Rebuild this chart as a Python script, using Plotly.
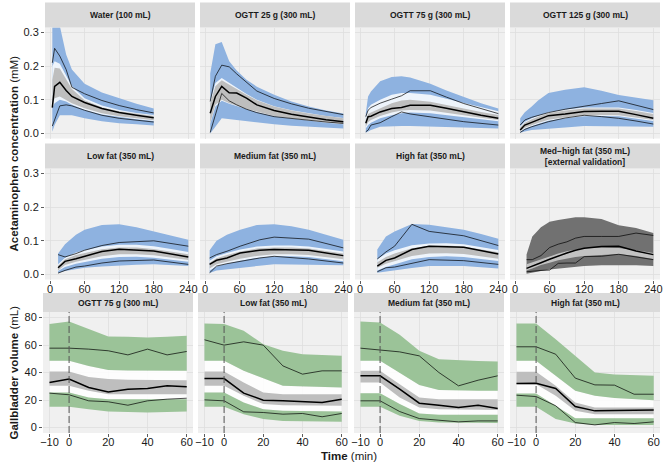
import plotly.graph_objects as go

W, H = 667, 467
FONT = "Liberation Sans, Arial, sans-serif"

# ---------------- tick labels / titles ----------------
pk_titles = ["Water (100 mL)", "OGTT 25 g (300 mL)", "OGTT 75 g (300 mL)", "OGTT 125 g (300 mL)",
             "Low fat (350 mL)", "Medium fat (350 mL)", "High fat (350 mL)",
             "Med\u2212high fat (350 mL)<br>[external validation]"]
gb_titles = ["OGTT 75 g (300 mL)", "Low fat (350 mL)", "Medium fat (350 mL)", "High fat (350 mL)"]
pk_x_ticks = [0, 60, 120, 180, 240]
pk_y_ticks = [0.0, 0.1, 0.2, 0.3]
gb_x_ticks = [-10, 0, 20, 40, 60]
gb_y_ticks = [0, 20, 40, 60, 80]
gb_dose_time = 0

# ---------------- acetaminophen (PK) data ----------------
water_t = [4, 8, 17, 28, 38, 60, 90, 120, 150, 180]
water_p05 = [0.022, 0.04, 0.082, 0.085, 0.082, 0.069, 0.054, 0.045, 0.039, 0.034]
water_p50 = [0.077, 0.14, 0.152, 0.128, 0.11, 0.092, 0.074, 0.062, 0.054, 0.047]
water_p95 = [0.21, 0.253, 0.23, 0.19, 0.137, 0.118, 0.098, 0.083, 0.071, 0.061]
water_pi_hi = [0.34, 0.34, 0.32, 0.235, 0.19, 0.148, 0.122, 0.104, 0.088, 0.074]
water_pi_lo = [0.005, 0.025, 0.054, 0.055, 0.054, 0.045, 0.036, 0.03, 0.027, 0.024]
water_ci_hi = [0.2, 0.215, 0.207, 0.17, 0.14, 0.105, 0.083, 0.07, 0.061, 0.055]
water_ci_lo = [0.075, 0.09, 0.1, 0.095, 0.085, 0.07, 0.056, 0.048, 0.042, 0.037]
water_md_hi = [0.16, 0.195, 0.193, 0.16, 0.132, 0.099, 0.078, 0.066, 0.058, 0.052]
water_md_lo = [0.085, 0.105, 0.11, 0.1, 0.09, 0.075, 0.06, 0.051, 0.044, 0.039]

o25_t = [9, 18, 29, 42, 55, 72, 90, 120, 150, 180, 210, 240]
o25_p05 = [0.003, 0.055, 0.119, 0.097, 0.085, 0.072, 0.062, 0.05, 0.044, 0.039, 0.034, 0.03]
o25_p50 = [0.06, 0.11, 0.14, 0.121, 0.12, 0.105, 0.085, 0.068, 0.057, 0.048, 0.041, 0.035]
o25_p95 = [0.095, 0.17, 0.203, 0.198, 0.177, 0.152, 0.126, 0.104, 0.088, 0.075, 0.065, 0.056]
o25_pi_hi = [0.178, 0.265, 0.272, 0.215, 0.187, 0.16, 0.139, 0.115, 0.095, 0.08, 0.068, 0.059]
o25_pi_lo = [0.0, 0.02, 0.045, 0.043, 0.04, 0.037, 0.033, 0.027, 0.023, 0.02, 0.017, 0.015]
o25_ci_hi = [0.095, 0.15, 0.165, 0.15, 0.135, 0.117, 0.1, 0.081, 0.069, 0.06, 0.052, 0.046]
o25_ci_lo = [0.028, 0.08, 0.097, 0.088, 0.081, 0.072, 0.063, 0.051, 0.044, 0.039, 0.032, 0.027]
o25_md_hi = [0.09, 0.14, 0.158, 0.146, 0.132, 0.115, 0.099, 0.08, 0.068, 0.059, 0.051, 0.045]
o25_md_lo = [0.03, 0.085, 0.1, 0.09, 0.083, 0.073, 0.064, 0.052, 0.045, 0.04, 0.033, 0.028]

o75_t = [10, 14, 19, 35, 55, 72, 87, 122, 150, 180, 210, 240]
o75_p05 = [0.005, 0.01, 0.025, 0.032, 0.05, 0.064, 0.058, 0.049, 0.042, 0.035, 0.03, 0.025]
o75_p50 = [0.03, 0.05, 0.051, 0.064, 0.074, 0.077, 0.084, 0.084, 0.075, 0.064, 0.054, 0.045]
o75_p95 = [0.05, 0.069, 0.077, 0.09, 0.102, 0.112, 0.127, 0.127, 0.108, 0.089, 0.074, 0.059]
o75_pi_hi = [0.06, 0.11, 0.125, 0.155, 0.168, 0.17, 0.166, 0.148, 0.128, 0.108, 0.09, 0.074]
o75_pi_lo = [0.002, 0.005, 0.01, 0.02, 0.022, 0.022, 0.022, 0.021, 0.02, 0.018, 0.016, 0.015]
o75_ci_hi = [0.045, 0.075, 0.085, 0.1, 0.115, 0.12, 0.12, 0.115, 0.103, 0.09, 0.078, 0.066]
o75_ci_lo = [0.015, 0.025, 0.032, 0.045, 0.054, 0.06, 0.062, 0.06, 0.055, 0.048, 0.042, 0.036]
o75_md_hi = [0.04, 0.058, 0.062, 0.075, 0.09, 0.098, 0.1, 0.094, 0.084, 0.074, 0.064, 0.055]
o75_md_lo = [0.02, 0.033, 0.04, 0.052, 0.062, 0.068, 0.07, 0.068, 0.062, 0.054, 0.047, 0.04]

o125_t = [9, 17, 29, 40, 58, 87, 120, 150, 180, 210, 240]
o125_p05 = [0.003, 0.012, 0.02, 0.026, 0.035, 0.046, 0.054, 0.05, 0.045, 0.037, 0.028]
o125_p50 = [0.01, 0.025, 0.033, 0.04, 0.053, 0.058, 0.065, 0.066, 0.066, 0.056, 0.045]
o125_p95 = [0.025, 0.04, 0.048, 0.053, 0.062, 0.072, 0.082, 0.089, 0.097, 0.085, 0.071]
o125_pi_hi = [0.045, 0.063, 0.08, 0.098, 0.12, 0.13, 0.137, 0.127, 0.114, 0.106, 0.099]
o125_pi_lo = [0.002, 0.006, 0.01, 0.012, 0.015, 0.018, 0.022, 0.022, 0.021, 0.02, 0.02]
o125_ci_hi = [0.021, 0.035, 0.045, 0.053, 0.063, 0.071, 0.077, 0.078, 0.077, 0.07, 0.061]
o125_ci_lo = [0.004, 0.014, 0.022, 0.028, 0.038, 0.045, 0.051, 0.052, 0.051, 0.044, 0.037]
o125_md_hi = [0.018, 0.032, 0.042, 0.05, 0.06, 0.068, 0.074, 0.075, 0.074, 0.067, 0.058]
o125_md_lo = [0.006, 0.017, 0.025, 0.031, 0.041, 0.048, 0.054, 0.055, 0.054, 0.047, 0.04]

lf_t = [14, 26, 45, 60, 90, 120, 180, 240]
lf_p05 = [0.004, 0.012, 0.022, 0.025, 0.034, 0.04, 0.043, 0.03]
lf_p50 = [0.02, 0.039, 0.047, 0.054, 0.068, 0.075, 0.07, 0.052]
lf_p95 = [0.059, 0.052, 0.062, 0.072, 0.086, 0.095, 0.1, 0.084]
lf_sim_t = [14, 26, 45, 60, 90, 120, 150, 180, 210, 240]
lf_pi_hi = [0.062, 0.09, 0.118, 0.133, 0.147, 0.149, 0.14, 0.128, 0.115, 0.103]
lf_pi_lo = [0.004, 0.01, 0.016, 0.02, 0.024, 0.027, 0.029, 0.03, 0.028, 0.025]
lf_ci_hi = [0.03, 0.05, 0.065, 0.072, 0.083, 0.088, 0.088, 0.084, 0.076, 0.067]
lf_ci_lo = [0.01, 0.022, 0.032, 0.038, 0.047, 0.052, 0.053, 0.05, 0.044, 0.038]
lf_md_hi = [0.026, 0.045, 0.058, 0.064, 0.075, 0.08, 0.08, 0.076, 0.068, 0.06]
lf_md_lo = [0.012, 0.028, 0.038, 0.044, 0.054, 0.06, 0.06, 0.057, 0.05, 0.043]

mf_t = [8, 20, 38, 61, 95, 120, 180, 240]
mf_p05 = [0.005, 0.025, 0.032, 0.039, 0.049, 0.054, 0.046, 0.034]
mf_p50 = [0.03, 0.042, 0.049, 0.064, 0.072, 0.074, 0.072, 0.056]
mf_p95 = [0.049, 0.059, 0.069, 0.084, 0.103, 0.111, 0.105, 0.079]
mf_sim_t = [8, 20, 38, 61, 90, 120, 150, 180, 210, 240]
mf_pi_hi = [0.072, 0.1, 0.118, 0.133, 0.147, 0.149, 0.143, 0.133, 0.118, 0.103]
mf_pi_lo = [0.004, 0.012, 0.016, 0.02, 0.025, 0.03, 0.03, 0.029, 0.028, 0.027]
mf_ci_hi = [0.041, 0.054, 0.064, 0.074, 0.083, 0.086, 0.086, 0.083, 0.076, 0.068]
mf_ci_lo = [0.012, 0.024, 0.032, 0.041, 0.049, 0.054, 0.054, 0.052, 0.046, 0.039]
mf_md_hi = [0.035, 0.048, 0.058, 0.068, 0.077, 0.08, 0.08, 0.077, 0.07, 0.062]
mf_md_lo = [0.018, 0.03, 0.038, 0.047, 0.055, 0.06, 0.06, 0.058, 0.052, 0.045]

hf_t = [30, 45, 60, 90, 120, 180, 240]
hf_p05 = [0.008, 0.02, 0.022, 0.034, 0.044, 0.041, 0.03]
hf_p50 = [0.025, 0.042, 0.049, 0.074, 0.084, 0.081, 0.061]
hf_p95 = [0.046, 0.067, 0.084, 0.149, 0.128, 0.115, 0.086]
hf_sim_t = [30, 45, 60, 90, 120, 150, 180, 210, 240]
hf_pi_hi = [0.074, 0.113, 0.128, 0.15, 0.148, 0.141, 0.133, 0.12, 0.106]
hf_pi_lo = [0.005, 0.008, 0.012, 0.019, 0.025, 0.025, 0.025, 0.022, 0.018]
hf_ci_hi = [0.045, 0.062, 0.072, 0.087, 0.092, 0.093, 0.09, 0.082, 0.073]
hf_ci_lo = [0.012, 0.022, 0.03, 0.045, 0.052, 0.054, 0.052, 0.047, 0.04]
hf_md_hi = [0.036, 0.052, 0.062, 0.078, 0.085, 0.086, 0.083, 0.075, 0.066]
hf_md_lo = [0.02, 0.032, 0.04, 0.055, 0.062, 0.063, 0.061, 0.055, 0.047]

ext_t = [20, 30, 45, 60, 75, 90, 105, 120, 150, 180, 210, 240]
ext_p05 = [0.008, 0.01, 0.012, 0.013, 0.033, 0.034, 0.034, 0.053, 0.054, 0.06, 0.052, 0.044]
ext_p50 = [0.018, 0.024, 0.035, 0.045, 0.055, 0.064, 0.072, 0.078, 0.083, 0.084, 0.07, 0.059]
ext_p95 = [0.044, 0.044, 0.056, 0.08, 0.09, 0.097, 0.108, 0.113, 0.113, 0.113, 0.123, 0.116]
ext_pi_hi = [0.059, 0.113, 0.14, 0.157, 0.162, 0.166, 0.17, 0.17, 0.165, 0.146, 0.138, 0.123]
ext_pi_lo = [0.002, 0.006, 0.01, 0.015, 0.018, 0.021, 0.023, 0.025, 0.027, 0.028, 0.027, 0.025]
ext_md_hi = [0.03, 0.036, 0.046, 0.054, 0.062, 0.069, 0.075, 0.079, 0.08, 0.079, 0.072, 0.064]
ext_md_lo = [0.012, 0.018, 0.028, 0.035, 0.042, 0.048, 0.052, 0.055, 0.059, 0.061, 0.055, 0.046]

# ---------------- gallbladder volume data ----------------
gb_t = [-10, 0, 10, 20, 30, 40, 50, 60]

g75_p05 = [25, 23.8, 19.4, 18.7, 16.2, 19.4, 20.6, 21.3]
g75_p50 = [32.7, 35.2, 29.1, 25.9, 27.9, 28.4, 30.3, 29.6]
g75_p95 = [57.7, 57.7, 57, 55.8, 52.8, 57, 52.8, 55.3]
g75_up_hi = [75.2, 77.1, 71.6, 66.2, 66, 65.5, 66, 66.7]
g75_up_lo = [48.5, 48.5, 44.8, 41.9, 41.5, 41.2, 41.2, 41.2]
g75_md_hi = [40.7, 40.7, 36.8, 35.2, 34.8, 34.6, 34.5, 34.4]
g75_md_lo = [30.3, 30.3, 26.7, 24.2, 24.2, 24.2, 24.2, 24.2]
g75_lo_hi = [25.5, 25.5, 21.8, 20.6, 20.6, 20.6, 20.6, 20.6]
g75_lo_lo = [15, 15, 13.3, 11.6, 11.2, 10.9, 11.2, 11.6]

glf_p05 = [20.1, 19.4, 11.4, 10.9, 9.7, 10.2, 7.8, 10.2]
glf_p50 = [35.6, 35.6, 25, 19.9, 19.4, 18.7, 18.2, 20.6]
glf_p95 = [63.8, 59.9, 62.3, 59.9, 44.8, 38.8, 41.2, 41.2]
glf_up_hi = [75.6, 75.2, 70.3, 60.6, 55.8, 53.3, 52.7, 52.1]
glf_up_lo = [48.5, 48.5, 41.2, 35.9, 30.3, 29.7, 29.4, 29.1]
glf_md_hi = [40.7, 40.7, 32.7, 25.5, 24.2, 24.2, 24.2, 24.2]
glf_md_lo = [30.3, 30.3, 23, 17, 16.2, 16, 15.9, 15.8]
glf_lo_hi = [25.5, 25.5, 18.2, 13.3, 12.1, 11.9, 11.7, 11.6]
glf_lo_lo = [15, 15, 9.7, 6.1, 4.8, 4.5, 4.3, 4.1]

gmf_p05 = [19.4, 19.4, 11.6, 6.5, 5.3, 4.1, 4.8, 4.8]
gmf_p50 = [37.6, 37.6, 27.9, 17.7, 16.2, 14.5, 16.2, 13.8]
gmf_p95 = [57.7, 56.2, 55, 52.1, 40, 30.3, 34.4, 37.6]
gmf_up_hi = [77.1, 76.4, 67.4, 55.8, 49.7, 48.8, 48.4, 48]
gmf_up_lo = [48.5, 48.5, 40, 31, 27.2, 27, 26.8, 26.7]
gmf_md_hi = [41.2, 41.2, 31.5, 21.8, 20.6, 20.6, 20.6, 20.6]
gmf_md_lo = [32.7, 32.7, 21.8, 14.5, 13.3, 13, 12.9, 12.8]
gmf_lo_hi = [25, 25, 17, 10.2, 9.2, 9.2, 9.2, 9.2]
gmf_lo_lo = [15, 15, 8.5, 4.8, 3.6, 3.4, 3.3, 3.2]

ghf_p05 = [23.5, 22.5, 15.8, 3.6, 1.9, 3.6, 2.9, 4.1]
ghf_p50 = [32, 32.2, 28.4, 15.3, 12.1, 12.6, 12.6, 12.8]
ghf_p95 = [58.7, 58.7, 53.3, 35.9, 31, 30.8, 24.2, 24.2]
ghf_up_hi = [75.6, 75.6, 64.2, 52.1, 40, 38.5, 38, 37.6]
ghf_up_lo = [48.5, 48.5, 37.6, 26.7, 23, 21.5, 20.7, 19.9]
ghf_md_hi = [40.5, 40.5, 30.3, 18.2, 14.5, 14.5, 14.5, 14.5]
ghf_md_lo = [31.5, 31.5, 23, 12.1, 9.7, 9.7, 9.7, 9.7]
ghf_lo_hi = [24.7, 24.7, 15.8, 6.8, 6.8, 6.8, 6.8, 6.8]
ghf_lo_lo = [15, 15, 6.1, 2.9, 1.9, 1.9, 1.9, 1.9]

# ---------------- styling ----------------
BLUE = "#8EB2E0"
GREEN = "#9BC398"
GREY = "#BEBEBE"
WHITE = "rgba(255,255,255,0.85)"
DARK = "#717171"
LIGHT = "#C2C2C2"
PANEL_BG = "#F0F0F0"
GRID = "#DEDEDE"
STRIP = "#DADADA"
TXT = "#1A1A1A"

pk_cols = [(45, 195), (200, 350), (355, 505), (510, 660)]
gb_cols = [(43, 193), (198, 348), (354, 504), (510, 660)]
pk_rows = [((2.5, 27.5), (27.5, 138.5)), ((143.5, 168.5), (168.5, 279.5))]
gb_row = ((293, 312), (312, 433))

pk_sets = [
    (water_t, water_p05, water_p50, water_p95, water_t, water_pi_lo, water_pi_hi, water_ci_lo, water_ci_hi, water_md_lo, water_md_hi),
    (o25_t, o25_p05, o25_p50, o25_p95, o25_t, o25_pi_lo, o25_pi_hi, o25_ci_lo, o25_ci_hi, o25_md_lo, o25_md_hi),
    (o75_t, o75_p05, o75_p50, o75_p95, o75_t, o75_pi_lo, o75_pi_hi, o75_ci_lo, o75_ci_hi, o75_md_lo, o75_md_hi),
    (o125_t, o125_p05, o125_p50, o125_p95, o125_t, o125_pi_lo, o125_pi_hi, o125_ci_lo, o125_ci_hi, o125_md_lo, o125_md_hi),
    (lf_t, lf_p05, lf_p50, lf_p95, lf_sim_t, lf_pi_lo, lf_pi_hi, lf_ci_lo, lf_ci_hi, lf_md_lo, lf_md_hi),
    (mf_t, mf_p05, mf_p50, mf_p95, mf_sim_t, mf_pi_lo, mf_pi_hi, mf_ci_lo, mf_ci_hi, mf_md_lo, mf_md_hi),
    (hf_t, hf_p05, hf_p50, hf_p95, hf_sim_t, hf_pi_lo, hf_pi_hi, hf_ci_lo, hf_ci_hi, hf_md_lo, hf_md_hi),
    (ext_t, ext_p05, ext_p50, ext_p95, ext_t, ext_pi_lo, ext_pi_hi, None, None, ext_md_lo, ext_md_hi),
]
gb_sets = [
    (g75_p05, g75_p50, g75_p95, g75_up_lo, g75_up_hi, g75_md_lo, g75_md_hi, g75_lo_lo, g75_lo_hi),
    (glf_p05, glf_p50, glf_p95, glf_up_lo, glf_up_hi, glf_md_lo, glf_md_hi, glf_lo_lo, glf_lo_hi),
    (gmf_p05, gmf_p50, gmf_p95, gmf_up_lo, gmf_up_hi, gmf_md_lo, gmf_md_hi, gmf_lo_lo, gmf_lo_hi),
    (ghf_p05, ghf_p50, ghf_p95, ghf_up_lo, ghf_up_hi, ghf_md_lo, ghf_md_hi, ghf_lo_lo, ghf_lo_hi),
]

fig = go.Figure()


def ax_names(k):
    return ("x" if k == 1 else f"x{k}", "y" if k == 1 else f"y{k}")


def ribbon(k, t, lo, hi, color):
    xa, ya = ax_names(k)
    fig.add_trace(go.Scatter(x=list(t) + list(t)[::-1], y=list(hi) + list(lo)[::-1],
                             fill="toself", fillcolor=color, mode="lines", line=dict(width=0),
                             hoverinfo="skip", showlegend=False, xaxis=xa, yaxis=ya))


def line(k, t, v, width):
    xa, ya = ax_names(k)
    fig.add_trace(go.Scatter(x=t, y=v, mode="lines", line=dict(color="black", width=width),
                             hoverinfo="skip", showlegend=False, xaxis=xa, yaxis=ya))


layout_axes = {}
shapes = []
annotations = []


def px_x(a, b):
    return [a / W, b / W]


def px_y(top, bottom):
    return [1 - bottom / H, 1 - top / H]


tickfont = dict(family=FONT, size=11, color=TXT)
common = dict(showgrid=True, gridcolor=GRID, gridwidth=0.8, zeroline=False, showline=False,
              ticklen=3, tickwidth=0.8, tickcolor="#333333", tickfont=tickfont,
              fixedrange=True, automargin=False)

# PK panels
for i, s in enumerate(pk_sets):
    k = i + 1
    t, p05, p50, p95, st, pi_lo, pi_hi, ci_lo, ci_hi, md_lo, md_hi = s
    ext = ci_lo is None
    ribbon(k, st, pi_lo, pi_hi, DARK if ext else BLUE)
    if not ext:
        ribbon(k, st, ci_lo, ci_hi, WHITE)
    ribbon(k, st, md_lo, md_hi, LIGHT if ext else GREY)
    line(k, t, p05, 0.7)
    line(k, t, p95, 0.7)
    line(k, t, p50, 1.5)
    r, c = divmod(i, 4)
    (st_top, st_bot), (pt, pb) = pk_rows[r]
    x0, x1 = pk_cols[c]
    xa, ya = ax_names(k)
    showx = r == 1
    showy = c == 0
    layout_axes["xaxis" if k == 1 else f"xaxis{k}"] = dict(
        domain=px_x(x0, x1), anchor=ya, range=[-8.7, 251.6], tickvals=pk_x_ticks,
        showticklabels=showx, ticks="outside" if showx else "", ticklabelstandoff=-4, **common)
    layout_axes["yaxis" if k == 1 else f"yaxis{k}"] = dict(
        domain=px_y(pt, pb), anchor=xa, range=[-0.015, 0.315], tickvals=pk_y_ticks,
        tickformat=".1f", showticklabels=showy, ticks="outside" if showy else "", **common)
    shapes.append(dict(type="rect", xref="paper", yref="paper", x0=x0 / W, x1=x1 / W,
                       y0=1 - st_bot / H, y1=1 - st_top / H, fillcolor=STRIP, line=dict(width=0)))
    annotations.append(dict(xref="paper", yref="paper", x=(x0 + x1) / 2 / W, y=1 - (st_top + st_bot) / 2 / H,
                            text="<b>" + pk_titles[i] + "</b>", showarrow=False, xanchor="center",
                            yanchor="middle", font=dict(family=FONT, size=8.5, color=TXT)))

# GB panels
(gst_top, gst_bot), (gpt, gpb) = gb_row
for i, s in enumerate(gb_sets):
    k = 9 + i
    p05, p50, p95, up_lo, up_hi, md_lo, md_hi, lo_lo, lo_hi = s
    ribbon(k, gb_t, lo_hi, up_lo, WHITE)
    ribbon(k, gb_t, up_lo, up_hi, GREEN)
    ribbon(k, gb_t, lo_lo, lo_hi, GREEN)
    ribbon(k, gb_t, md_lo, md_hi, GREY)
    line(k, gb_t, p05, 0.7)
    line(k, gb_t, p95, 0.7)
    line(k, gb_t, p50, 1.5)
    x0, x1 = gb_cols[i]
    xa, ya = ax_names(k)
    showy = i == 0
    layout_axes[f"xaxis{k}"] = dict(
        domain=px_x(x0, x1), anchor=ya, range=[-13.3, 63.2], tickvals=gb_x_ticks,
        showticklabels=True, ticks="outside", ticklabelstandoff=-4, **common)
    layout_axes[f"yaxis{k}"] = dict(
        domain=px_y(gpt, gpb), anchor=xa, range=[-4, 84], tickvals=gb_y_ticks,
        showticklabels=showy, ticks="outside" if showy else "", **common)
    shapes.append(dict(type="rect", xref="paper", yref="paper", x0=x0 / W, x1=x1 / W,
                       y0=1 - gst_bot / H, y1=1 - gst_top / H, fillcolor=STRIP, line=dict(width=0)))
    annotations.append(dict(xref="paper", yref="paper", x=(x0 + x1) / 2 / W, y=1 - (gst_top + gst_bot) / 2 / H,
                            text="<b>" + gb_titles[i] + "</b>", showarrow=False, xanchor="center",
                            yanchor="middle", font=dict(family=FONT, size=8.5, color=TXT)))
    shapes.append(dict(type="line", xref=xa, yref=ya + " domain", x0=gb_dose_time, x1=gb_dose_time,
                       y0=0, y1=1, line=dict(color="#555555", width=1, dash="7px,3px"), layer="above"))

# axis titles
annotations.append(dict(xref="paper", yref="paper", x=13 / W, y=1 - 153.5 / H,
                        text="<b>Acetaminophen concentration</b> (mM)", textangle=-90, showarrow=False,
                        xanchor="center", yanchor="middle", font=dict(family=FONT, size=11.5, color=TXT)))
annotations.append(dict(xref="paper", yref="paper", x=13 / W, y=1 - 372.5 / H,
                        text="<b>Gallbladder volume</b> (mL)", textangle=-90, showarrow=False,
                        xanchor="center", yanchor="middle", font=dict(family=FONT, size=11.5, color=TXT)))
annotations.append(dict(xref="paper", yref="paper", x=349 / W, y=1 - 456 / H,
                        text="<b>Time</b> (min)", showarrow=False,
                        xanchor="center", yanchor="middle", font=dict(family=FONT, size=11.5, color=TXT)))

fig.update_layout(width=W, height=H, margin=dict(l=0, r=0, t=0, b=0, autoexpand=False),
                  paper_bgcolor="white", plot_bgcolor=PANEL_BG, showlegend=False,
                  font=dict(family=FONT, color=TXT), shapes=shapes, annotations=annotations,
                  **layout_axes)

fig.write_html("out.html", config={"displayModeBar": False, "staticPlot": True},
               post_script="document.body.style.margin='0px';")
